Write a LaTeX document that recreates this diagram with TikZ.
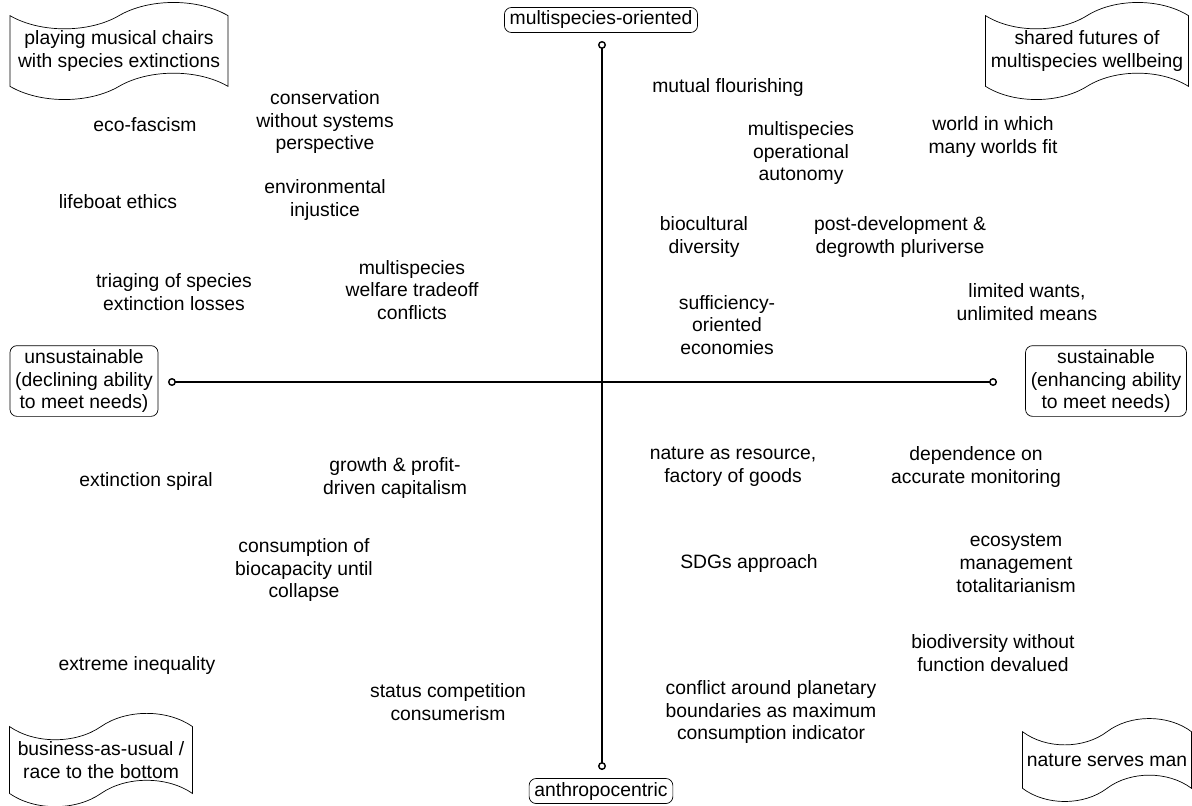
\documentclass[tikz,border=0pt]{standalone}
\usepackage{fontspec}
\setmainfont{Liberation Sans}
\usetikzlibrary{shapes.symbols,arrows.meta}

\tikzset{
  idea/.style={align=center, inner sep=1pt},
  pole/.style={draw, rounded corners=4pt, align=center, inner xsep=3pt, inner ysep=2pt},
  flag/.style={draw, tape, align=center, tape bend height=15pt, inner sep=1pt},
  axis/.style={thick, {Circle[open,length=4.5pt]}-{Circle[open,length=4.5pt]}}
}

\begin{document}
\begin{tikzpicture}[x=0.02cm, y=-0.02cm, font=\fontsize{11}{13}\selectfont]
\useasboundingbox (0,0) rectangle (1192,805);
% axis ends
\coordinate (ntop) at (602,41);
\coordinate (nbot) at (602,770);
\coordinate (nleft) at (168,382);
\coordinate (nright) at (997,382);
\draw [axis] (ntop) -- (nbot);
\draw [axis] (nleft) -- (nright);
% poles
\node [pole] (multi) at (601,20) {multispecies-oriented};
\node [pole] (anthro) at (601,791) {anthropocentric};
\node [pole] (unsus) at (84,381) {unsustainable\\(declining ability\\to meet needs)};
\node [pole] (sus) at (1106,381) {sustainable\\(enhancing ability\\to meet needs)};
% corner flags
\node [flag, minimum width=4.36cm, minimum height=1.7cm] (chairs) at (119,51) {playing musical chairs\\with species extinctions};
\node [flag, minimum width=4.06cm, minimum height=1.7cm] (futures) at (1087,51) {shared futures of\\multispecies wellbeing};
\node [flag, minimum width=3.66cm, minimum height=1.66cm] (business) at (101,760) {business-as-usual /\\race to the bottom};
\node [flag, minimum width=3.38cm, minimum height=1.66cm] (serves) at (1107,760) {nature serves man};
% upper left
\node [idea] (conserv) at (325,122) {conservation\\without systems\\perspective};
\node [idea] (ecofasc) at (145,125) {eco-fascism};
\node [idea] (envinj) at (325,200) {environmental\\injustice};
\node [idea] (lifeboat) at (118,202) {lifeboat ethics};
\node [idea] (triage) at (174,292) {triaging of species\\extinction losses};
\node [idea] (welfare) at (412,290) {multispecies\\welfare tradeoff\\conflicts};
% upper right
\node [idea] (mutual) at (728,87) {mutual flourishing};
\node [idea] (autonomy) at (801,153) {multispecies\\operational\\autonomy};
\node [idea] (worlds) at (993,137) {world in which\\many worlds fit};
\node [idea] (biocult) at (704,237) {biocultural\\diversity};
\node [idea] (degrowth) at (900,237) {post-development \&\\degrowth pluriverse};
\node [idea] (suffic) at (727,325) {sufficiency-\\oriented\\economies};
\node [idea] (wants) at (1027,302) {limited wants,\\unlimited means};
% lower left
\node [idea] (growth) at (395,478) {growth \& profit-\\driven capitalism};
\node [idea] (spiral) at (146,481) {extinction spiral};
\node [idea] (consum) at (304,570) {consumption of\\biocapacity until\\collapse};
\node [idea] (inequal) at (137,665) {extreme inequality};
\node [idea] (status) at (448,702) {status competition\\consumerism};
% lower right
\node [idea] (resource) at (733,467) {nature as resource,\\factory of goods};
\node [idea] (monitor) at (976,467) {dependence on\\accurate monitoring};
\node [idea] (sdgs) at (749,563) {SDGs approach};
\node [idea] (ecomgmt) at (1016,563) {ecosystem\\management\\totalitarianism};
\node [idea] (biodiv) at (993,653) {biodiversity without\\function devalued};
\node [idea] (planet) at (771,712) {conflict around planetary\\boundaries as maximum\\consumption indicator};
\end{tikzpicture}
\end{document}
